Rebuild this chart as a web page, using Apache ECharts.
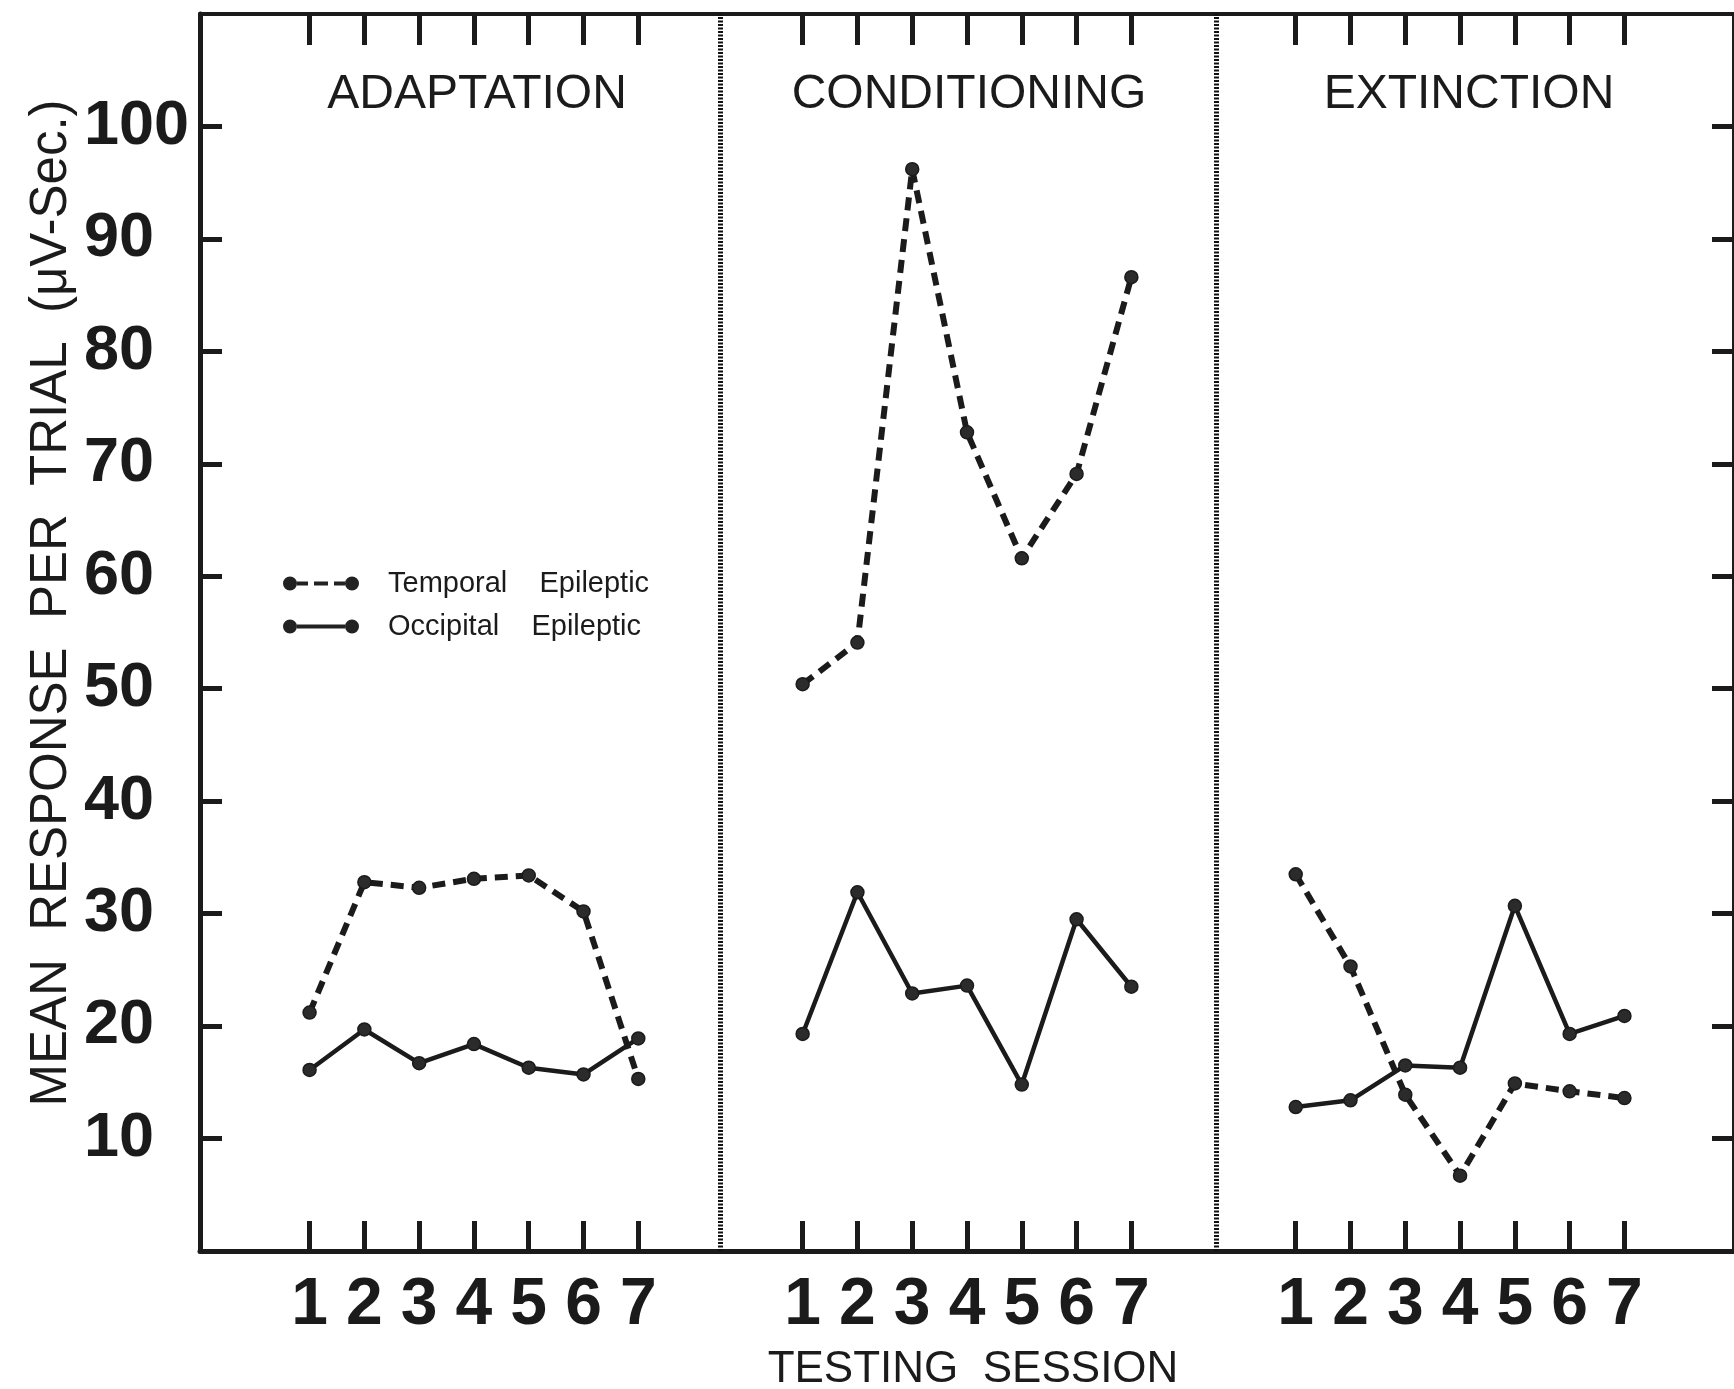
<!DOCTYPE html>
<html>
<head>
<meta charset="utf-8">
<script src="https://cdn.jsdelivr.net/npm/echarts@6/dist/echarts.min.js"></script>
<style>
html,body{margin:0;padding:0;background:#fff;}
#chart{width:1734px;height:1389px;}
</style>
</head>
<body>
<div id="chart"></div>
<script>
// ---- data ----
const sessions = [1, 2, 3, 4, 5, 6, 7];
const phases = ['ADAPTATION', 'CONDITIONING', 'EXTINCTION'];
const seriesNames = ['Temporal Epileptic', 'Occipital Epileptic'];
const temporalAdaptation   = [21.2, 32.8, 32.3, 33.1, 33.4, 30.2, 15.3];
const occipitalAdaptation  = [16.1, 19.7, 16.7, 18.4, 16.3, 15.7, 18.9];
const temporalConditioning = [50.4, 54.1, 96.2, 72.8, 61.6, 69.1, 86.6];
const occipitalConditioning= [19.3, 31.9, 22.9, 23.6, 14.8, 29.5, 23.5];
const temporalExtinction   = [33.5, 25.3, 13.9, 6.7, 14.9, 14.2, 13.6];
const occipitalExtinction  = [12.8, 13.4, 16.5, 16.3, 30.7, 19.3, 20.9];
const yTickValues = [10, 20, 30, 40, 50, 60, 70, 80, 90, 100];

// ---- layout helpers ----
const panelOffset = [0, 9, 18];          // x-position offset of each panel
const dividers = [8.5, 17.55];
const xTickValues = [];
panelOffset.forEach(o => sessions.forEach(s => xTickValues.push(s + o)));

const ink = '#1b1b1b';
const toPts = (vals, p) => vals.map((v, i) => [sessions[i] + panelOffset[p], v]);

const temporalStyle = {
  type: 'line', name: seriesNames[0], symbol: 'circle', symbolSize: 13,
  lineStyle: { color: ink, width: 6, type: [13, 8] },
  itemStyle: { color: '#2b2b2b', borderColor: ink, borderWidth: 1.5 },
  z: 3
};
const occipitalStyle = {
  type: 'line', name: seriesNames[1], symbol: 'circle', symbolSize: 13,
  lineStyle: { color: ink, width: 4.5, type: 'solid' },
  itemStyle: { color: '#2b2b2b', borderColor: ink, borderWidth: 1.5 },
  z: 3
};

const temporalSets = [temporalAdaptation, temporalConditioning, temporalExtinction];
const occipitalSets = [occipitalAdaptation, occipitalConditioning, occipitalExtinction];
const series = [];
for (let p = 0; p < 3; p++) {
  series.push(Object.assign({}, temporalStyle, { data: toPts(temporalSets[p], p) }));
  series.push(Object.assign({}, occipitalStyle, { data: toPts(occipitalSets[p], p) }));
}
series[0].markLine = {
  symbol: 'none', silent: true, label: { show: false }, animation: false,
  lineStyle: { type: [2, 1.5], width: 5, color: '#111' },
  data: dividers.map(d => ({ xAxis: d }))
};

const circ = (cx, cy, r) => `M${cx - r},${cy}a${r},${r} 0 1,0 ${2 * r},0a${r},${r} 0 1,0 ${-2 * r},0Z`;
const iconTemporal = 'path://' + circ(7, 8, 7) + ' M14,6h11v4h-11Z M31,6h14v4h-14Z M51,6h11v4h-11Z ' + circ(69, 8, 7);
const iconOccipital = 'path://' + circ(7, 8, 7) + ' M14,6h48v4h-48Z ' + circ(69, 8, 7);

const numFont = 'Liberation Sans';
const textFont = 'Liberation Sans';

const chart = echarts.init(document.getElementById('chart'), null, { renderer: 'canvas' });
chart.setOption({
  animation: false,
  backgroundColor: '#fff',
  grid: { left: 200, right: -4, top: 14, bottom: 138, containLabel: false },
  xAxis: [
    {
      type: 'value', position: 'bottom', min: -1, max: 27,
      axisLine: { show: true, onZero: false, lineStyle: { color: ink, width: 5 } },
      axisTick: { show: true, inside: true, length: 30, customValues: xTickValues, lineStyle: { color: ink, width: 5 } },
      axisLabel: {
        show: true, customValues: xTickValues, margin: 22,
        formatter: v => String(((Math.round(v) - 1) % 9) + 1),
        fontFamily: numFont, fontWeight: 'bold', fontSize: 66, color: ink
      },
      splitLine: { show: false }
    },
    {
      type: 'value', position: 'top', min: -1, max: 27,
      axisLine: { show: true, onZero: false, lineStyle: { color: ink, width: 4 } },
      axisTick: { show: true, inside: true, length: 31, customValues: xTickValues, lineStyle: { color: ink, width: 5 } },
      axisLabel: { show: false },
      splitLine: { show: false }
    }
  ],
  yAxis: [
    {
      type: 'value', position: 'left', min: 0, max: 110,
      axisLine: { show: true, onZero: false, lineStyle: { color: ink, width: 5 } },
      axisTick: { show: true, inside: true, length: 22, customValues: yTickValues, lineStyle: { color: ink, width: 5 } },
      axisLabel: {
        show: true, customValues: yTickValues, align: 'left', margin: 116,
        fontFamily: numFont, fontWeight: 'bold', fontSize: 63, color: ink
      },
      splitLine: { show: false }
    },
    {
      type: 'value', position: 'right', min: 0, max: 110,
      axisLine: { show: true, onZero: false, lineStyle: { color: ink, width: 4 } },
      axisTick: { show: true, inside: true, length: 22, customValues: yTickValues, lineStyle: { color: ink, width: 5 } },
      axisLabel: { show: false },
      splitLine: { show: false }
    }
  ],
  legend: {
    orient: 'vertical', left: 278, top: 564,
    itemWidth: 76, itemHeight: 16, itemGap: 14,
    selectedMode: false,
    data: [
      { name: seriesNames[0], icon: iconTemporal },
      { name: seriesNames[1], icon: iconOccipital }
    ],
    itemStyle: { color: '#222', borderWidth: 0 },
    formatter: n => n.replace(' ', '    '),
    textStyle: { fontFamily: 'Liberation Sans', fontSize: 29, color: ink, padding: [0, 0, 0, 24] }
  },
  graphic: [
    { type: 'text', x: 477, y: 95, style: { text: phases[0], font: `48px "${textFont}"`, fill: ink, textAlign: 'center', textVerticalAlign: 'middle' } },
    { type: 'text', x: 969, y: 95, style: { text: phases[1], font: `48px "${textFont}"`, fill: ink, textAlign: 'center', textVerticalAlign: 'middle' } },
    { type: 'text', x: 1469, y: 95, style: { text: phases[2], font: `48px "${textFont}"`, fill: ink, textAlign: 'center', textVerticalAlign: 'middle' } },
    { type: 'text', x: 52, y: 603, rotation: Math.PI / 2,
      style: { text: 'MEAN  RESPONSE  PER  TRIAL  (\u03BCV-Sec.)', font: `51px "${textFont}"`, fill: ink, textAlign: 'center', textVerticalAlign: 'middle' } },
    { type: 'text', x: 973, y: 1348,
      style: { text: 'TESTING  SESSION', font: `44px "${textFont}"`, fill: ink, textAlign: 'center', textVerticalAlign: 'top' } }
  ],
  series: series
});
</script>
</body>
</html>
